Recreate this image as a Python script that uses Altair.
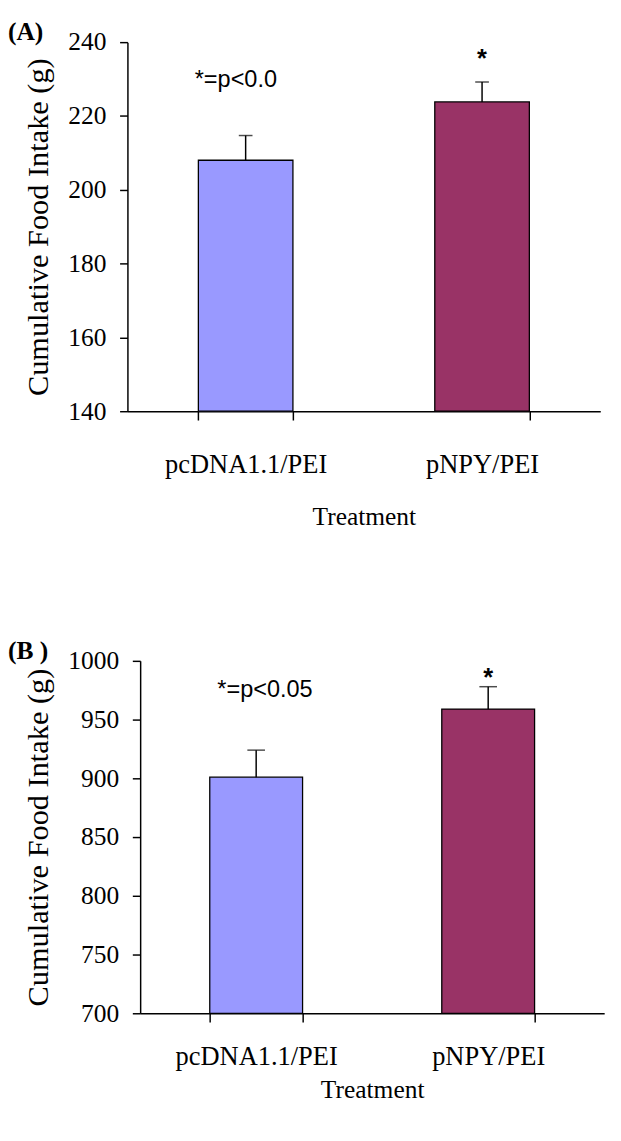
import altair as alt
import pandas as pd

categories = ["pcDNA1.1/PEI", "pNPY/PEI"]
colors = ["#9999FF", "#993366"]

a_means = [208.0, 223.8]
a_errs = [6.7, 5.4]
b_means = [901.0, 959.0]
b_errs = [23.0, 19.0]

a_ticks = [140, 160, 180, 200, 220, 240]
b_ticks = [700, 750, 800, 850, 900, 950, 1000]

y_title = "Cumulative Food Intake (g)"
x_title = "Treatment"
a_note = "*=p<0.0"
b_note = "*=p<0.05"
star = "*"

SERIF = "Liberation Serif"
SANS = "Liberation Sans"


def panel(means, errs, ticks, h, w, shift, tag, tag_dx, note, note_y, note_dx,
          star_y, cap, lab_pad, title_pad):
    ymin, ymax = ticks[0], ticks[-1]
    df = pd.DataFrame({
        "cat": categories,
        "mean": means,
        "hi": [m + e for m, e in zip(means, errs)],
        "base": [ymin] * len(categories),
        "color": colors,
    })
    x = alt.X(
        "cat:N", sort=categories,
        scale=alt.Scale(paddingInner=0.6, paddingOuter=0.3, range=[-shift, w]),
        axis=alt.Axis(
            title=x_title, tickBand="extent", labelAngle=0, tickSize=9,
            labelPadding=lab_pad, titlePadding=title_pad, labelFontSize=27,
            titleFontSize=26,
        ),
    )
    yscale = alt.Scale(domain=[ymin, ymax], nice=False, zero=False)
    y = alt.Y(
        "mean:Q", scale=yscale,
        axis=alt.Axis(
            title=y_title, values=ticks, format="d", tickSize=8, labelPadding=14,
            titlePadding=14, labelFontSize=26, titleFontSize=31, grid=False,
            offset=shift,
        ),
    )
    base = alt.Chart(df)
    bars = base.mark_bar(stroke="black", strokeWidth=1.3).encode(
        x=x, y=y, y2="base:Q", color=alt.Color("color:N", scale=None)
    )
    rule = base.mark_rule(color="black", strokeWidth=1.5).encode(
        x=alt.X("cat:N", sort=categories), y=alt.Y("mean:Q"), y2="hi:Q"
    )
    capm = base.mark_tick(color="black", thickness=1.5, size=cap, orient="horizontal").encode(
        x=alt.X("cat:N", sort=categories), y=alt.Y("hi:Q")
    )
    note_df = pd.DataFrame({"cat": [categories[0]], "y": [note_y], "t": [note]})
    star_df = pd.DataFrame({"cat": [categories[1]], "y": [star_y], "t": [star]})
    note_t = alt.Chart(note_df).mark_text(
        font=SANS, fontSize=24, align="center", baseline="alphabetic", dx=note_dx, color="black"
    ).encode(x=alt.X("cat:N", sort=categories), y=alt.Y("y:Q"), text="t:N")
    star_t = alt.Chart(star_df).mark_text(
        font=SANS, fontSize=26, fontWeight="bold", align="center", baseline="alphabetic", color="black"
    ).encode(x=alt.X("cat:N", sort=categories), y=alt.Y("y:Q"), text="t:N")
    return alt.layer(bars, rule, capm, note_t, star_t).properties(
        width=w, height=h,
        title=alt.TitleParams(
            tag, anchor="start", frame="group", dx=tag_dx, offset=-16,
            font=SERIF, fontSize=26, fontWeight="bold", color="black",
        ),
    )


pa = panel(a_means, a_errs, a_ticks, 377, 470, 13, "(A)", -135, a_note, 227.9, -10,
           233.2, 14, 33, 27)
pb = panel(b_means, b_errs, b_ticks, 360, 474, 0, "(B )", -135, b_note, 969, 9,
           979, 18, 22, 8)

chart = alt.vconcat(pa, pb, spacing=111).properties(
    padding={"left": 0, "top": 0, "right": 0, "bottom": 0}
).configure_view(stroke=None).configure_axis(
    labelFont=SERIF, titleFont=SERIF, labelColor="black", titleColor="black",
    domainColor="black", tickColor="black", domainWidth=1.5, tickWidth=1.5,
    titleFontWeight="normal",
)

chart.save("out.html", embed_options={"renderer": "svg", "actions": False})
